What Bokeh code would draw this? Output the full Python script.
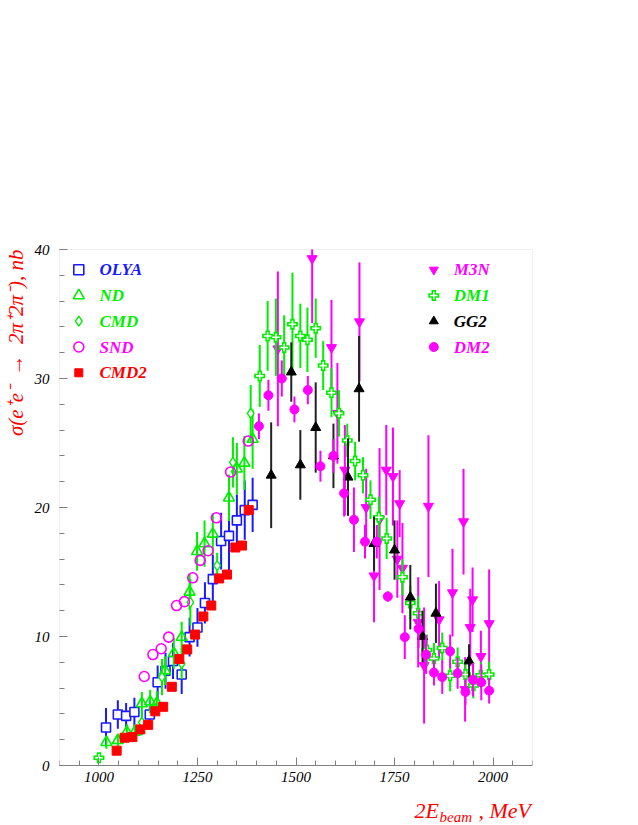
import numpy as np
from bokeh.plotting import figure
from bokeh.models import ColumnDataSource, Label, FixedTicker, Range1d, Title, BoxAnnotation
from bokeh.embed import file_html
from bokeh.resources import INLINE

# ---------------- data ----------------
olya_x = [1018, 1048, 1069, 1090, 1129, 1149, 1169, 1188, 1210, 1230, 1250, 1269, 1289, 1310, 1330, 1350, 1370, 1390]
olya_y = [2.95, 3.95, 3.85, 4.15, 3.95, 6.45, 7.35, 8.1, 7.05, 9.95, 10.7, 12.6, 14.45, 17.4, 17.8, 19.0, 19.8, 20.2]
olya_e = [1.5, 1.1, 1.0, 1.1, 1.1, 1.3, 1.4, 1.4, 1.5, 1.5, 1.5, 1.6, 1.9, 2.2, 2.9, 2.0, 2.3, 2.1]

nd_x = [1019, 1048, 1071, 1091, 1109, 1130, 1147, 1168, 1190, 1210, 1230, 1249, 1268, 1289, 1330, 1350, 1369, 1390]
nd_y = [1.8, 1.95, 2.6, 2.6, 4.8, 4.95, 4.85, 7.35, 8.7, 9.95, 13.45, 16.6, 17.2, 17.95, 20.75, 23.0, 23.45, 25.3]
nd_e = [0.5, 0.5, 0.6, 0.6, 0.9, 0.9, 0.9, 1.1, 1.2, 1.2, 1.4, 1.5, 1.8, 1.6, 1.8, 2.0, 2.1, 2.3]

cmd_x = [1109, 1160, 1210, 1232, 1300, 1340, 1385]
cmd_y = [3.35, 6.85, 7.9, 12.65, 15.5, 23.5, 27.3]
cmd_e = [1.0, 1.4, 1.2, 1.8, 1.0, 1.95, 2.2]

snd_x = [1115, 1137, 1158, 1177, 1197, 1217, 1238, 1257, 1277, 1298, 1334, 1379]
snd_y = [6.9, 8.6, 9.05, 9.95, 12.4, 12.7, 14.55, 15.9, 16.65, 19.2, 22.75, 25.15]

cmd2_x = [1045, 1065, 1085, 1105, 1125, 1143, 1163, 1185, 1204, 1224, 1244, 1265, 1285, 1305, 1325, 1346, 1363, 1380]
cmd2_y = [1.15, 2.15, 2.2, 2.8, 3.15, 4.2, 4.55, 6.1, 8.25, 9.0, 10.15, 11.55, 12.4, 14.5, 14.8, 16.9, 17.05, 19.8]

m3n_x = [1454, 1541, 1590, 1605, 1624, 1661, 1678, 1698, 1712, 1729, 1746, 1757, 1763, 1770, 1810, 1825, 1836, 1863, 1897, 1925, 1929, 1942, 1948, 1969, 1990]
m3n_y = [32.3, 39.3, 32.4, 27.3, 22.9, 34.4, 20.0, 14.7, 19.1, 22.9, 22.4, 16.0, 20.3, 15.3, 11.1, 7.75, 20.1, 11.3, 13.4, 18.9, 5.9, 10.7, 12.85, 8.45, 11.0]
m3n_e = [6.0, 5.0, 3.7, 3.9, 3.5, 4.6, 3.0, 3.6, 5.5, 3.5, 3.8, 3.0, 2.6, 3.5, 3.5, 4.5, 5.5, 3.0, 3.4, 4.1, 2.5, 3.0, 2.5, 2.0, 4.2]

dm1_x = [1000, 1408, 1428, 1449, 1470, 1491, 1511, 1529, 1550, 1569, 1590, 1609, 1630, 1650, 1670, 1689, 1710, 1730, 1770, 1790, 1810, 1832, 1850, 1871, 1891, 1910, 1930, 1950, 1969, 1990]
dm1_y = [0.6, 30.2, 33.3, 33.2, 32.4, 34.2, 33.3, 33.0, 33.9, 31.0, 28.9, 27.3, 25.2, 23.6, 22.5, 20.6, 19.25, 17.6, 14.6, 12.6, 11.8, 8.95, 8.3, 9.1, 6.95, 8.05, 7.05, 6.2, 7.0, 7.05]
dm1_e = [0.3, 2.4, 2.7, 3.0, 2.5, 4.0, 2.5, 2.5, 2.3, 1.9, 1.9, 1.8, 1.3, 1.5, 1.4, 1.5, 1.6, 1.6, 1.4, 1.3, 1.3, 1.2, 1.2, 1.2, 1.2, 1.1, 1.1, 1.0, 1.0, 1.0]

gg2_x = [1437, 1488, 1511, 1550, 1595, 1632, 1660, 1698, 1750, 1790, 1821, 1855, 1939]
gg2_y = [22.5, 30.5, 23.3, 26.2, 24.0, 22.35, 29.2, 17.2, 16.7, 13.05, 10.0, 11.8, 8.1]
gg2_e = [4.1, 2.3, 2.7, 3.5, 2.5, 3.0, 4.1, 2.1, 2.3, 2.5, 2.0, 2.3, 1.3]

dm2_x = [1406, 1430, 1464, 1496, 1530, 1562, 1595, 1622, 1647, 1675, 1705, 1733, 1776, 1811, 1830, 1850, 1871, 1891, 1910, 1930, 1949, 1970, 1990]
dm2_y = [26.3, 28.7, 30.0, 27.6, 29.1, 23.2, 24.0, 21.1, 19.05, 17.35, 17.35, 13.1, 9.95, 10.6, 8.6, 7.2, 6.85, 8.85, 7.15, 5.7, 6.65, 6.45, 5.8]
dm2_e = [1.0, 1.2, 1.4, 1.0, 1.1, 1.2, 1.3, 1.8, 2.5, 1.3, 1.3, 0.4, 1.7, 1.5, 1.5, 1.0, 1.3, 1.3, 1.2, 1.0, 1.3, 1.4, 1.0]

x_ticks = [1000, 1250, 1500, 1750, 2000]
y_ticks = [0, 10, 20, 30, 40]

# ---------------- styling ----------------
BLUE = "#1a1aff"
GREEN = "#00ee00"
MAG = "#ff00ff"
RED = "#ff0000"
BLACK = "#000000"
SERIF = "Liberation Serif"

W, H = 630, 825
BL, BR, BT = 59, 98, 249
X0, X1, Y0, Y1 = 900, 2100, 0, 40
FW = W - BL - BR
PX_PER_Y = 516 / (Y1 - Y0)          # 40 units over 516 px
Y_LO = Y1 - (H - BT) / PX_PER_Y      # frame runs to the canvas bottom


def px2x(px):
    return X0 + (px - BL) / FW * (X1 - X0)


def py2y(py):
    return Y1 - (py - BT) / PX_PER_Y


p = figure(width=W, height=H, output_backend="svg", toolbar_location=None,
           x_range=Range1d(X0, X1), y_range=Range1d(Y_LO, Y1))
p.min_border_left = BL
p.min_border_right = BR
p.min_border_top = BT
p.min_border_bottom = 0
p.xgrid.visible = False
p.ygrid.visible = False
p.outline_line_color = None
p.background_fill_color = "white"
p.border_fill_color = "white"

# plot box 900..2100 x 0..40
p.add_layout(BoxAnnotation(left=X0, right=X1, bottom=Y0, top=Y1, fill_alpha=0,
                           line_color="#9a9a9a", line_width=1, level="underlay"))

p.xaxis.ticker = FixedTicker(ticks=x_ticks, minor_ticks=list(range(900, 2101, 50)))
p.yaxis.ticker = FixedTicker(ticks=y_ticks, minor_ticks=list(range(0, 41, 2)))
p.xaxis.fixed_location = Y0
for ax in (p.xaxis[0], p.yaxis[0]):
    ax.axis_line_color = "#808080"
    ax.major_tick_line_color = "#808080"
    ax.minor_tick_line_color = "#808080"
    ax.major_tick_in = 8
    ax.major_tick_out = 0
    ax.minor_tick_in = 5
    ax.minor_tick_out = 0
    ax.major_label_text_font = SERIF
    ax.major_label_text_font_style = "italic"
    ax.major_label_text_font_size = "15px"
    ax.major_label_text_color = "black"
p.yaxis.axis_line_color = None
p.xaxis.major_label_standoff = 6
p.yaxis.major_label_standoff = 10


def src(x, y, e=None):
    x = np.asarray(x, float)
    y = np.asarray(y, float)
    e = np.zeros_like(y) if e is None else np.asarray(e, float)
    return ColumnDataSource(dict(x=x, y=y, lo=y - e, hi=y + e))


def bars(s, color, lw=2):
    p.segment(x0="x", y0="lo", x1="x", y1="hi", source=s, line_color=color, line_width=lw)


# OLYA
s = src(olya_x, olya_y, olya_e)
bars(s, BLUE)
p.scatter("x", "y", source=s, marker="square", size=9, line_color=BLUE, line_width=1.6,
          fill_color="white", fill_alpha=1.0)
# ND
s = src(nd_x, nd_y, nd_e)
bars(s, GREEN)
p.scatter("x", "y", source=s, marker="triangle", size=11, line_color=GREEN, line_width=1.6,
          fill_alpha=0)
# CMD
s = src(cmd_x, cmd_y, cmd_e)
bars(s, GREEN)
p.scatter("x", "y", source=s, marker="diamond", size=10, line_color=GREEN, line_width=1.4,
          fill_color="white")
# SND
s = src(snd_x, snd_y)
p.scatter("x", "y", source=s, marker="circle", size=10, line_color=MAG, line_width=1.6,
          fill_alpha=0)
# CMD2
s = src(cmd2_x, cmd2_y)
p.scatter("x", "y", source=s, marker="square", size=9, line_color=RED, fill_color=RED)
# M3N
s = src(m3n_x, m3n_y, m3n_e)
bars(s, MAG)
p.scatter("x", "y", source=s, marker="inverted_triangle", size=10, line_color=MAG, fill_color=MAG)
# DM1
s = src(dm1_x, dm1_y, dm1_e)
bars(s, GREEN)
p.scatter("x", "y", source=s, marker="cross", size=11, line_color=GREEN, line_width=4.5)
p.scatter("x", "y", source=s, marker="cross", size=7.5, line_color="white", line_width=1.6)
# GG2
s = src(gg2_x, gg2_y, gg2_e)
bars(s, "#222222")
p.scatter("x", "y", source=s, marker="triangle", size=10, line_color=BLACK, fill_color=BLACK)
# DM2
s = src(dm2_x, dm2_y, dm2_e)
bars(s, MAG)
p.scatter("x", "y", source=s, marker="circle", size=9, line_color=MAG, fill_color=MAG)

# ---------------- legends ----------------
left_names = ["OLYA", "ND", "CMD", "SND", "CMD2"]
right_names = ["M3N", "DM1", "GG2", "DM2"]
rows_py = [269.3, 295.0, 320.7, 346.5, 372.3]


def lab(x, y, text, color, size="17px", style="bold italic", baseline="middle"):
    p.add_layout(Label(x=x, y=y, text=text, text_color=color, text_font=SERIF,
                       text_font_style=style, text_font_size=size, text_align="left",
                       text_baseline=baseline))


lx = px2x(78.3)
ly = [py2y(v) for v in rows_py]
p.scatter([lx], [ly[0]], marker="square", size=10, line_color=BLUE, line_width=1.6, fill_alpha=0)
p.scatter([lx], [ly[1]], marker="triangle", size=11, line_color=GREEN, line_width=1.6, fill_alpha=0)
p.scatter([lx], [ly[2]], marker="diamond", size=10, line_color=GREEN, line_width=1.4, fill_alpha=0)
p.scatter([lx], [ly[3]], marker="circle", size=10, line_color=MAG, line_width=1.6, fill_alpha=0)
p.scatter([lx], [ly[4]], marker="square", size=8, line_color=RED, fill_color=RED)
for name, yv, c in zip(left_names, ly, [BLUE, GREEN, GREEN, MAG, RED]):
    lab(px2x(99), yv, name, c)

rx = px2x(433.3)
p.scatter([rx], [ly[0]], marker="inverted_triangle", size=9, line_color=MAG, fill_color=MAG)
p.scatter([rx], [ly[1]], marker="cross", size=11, line_color=GREEN, line_width=4.5)
p.scatter([rx], [ly[1]], marker="cross", size=7.5, line_color="white", line_width=1.6)
p.scatter([rx], [ly[2]], marker="triangle", size=9, line_color=BLACK, fill_color=BLACK)
p.scatter([rx], [ly[3]], marker="circle", size=9, line_color=MAG, fill_color=MAG)
for name, yv, c in zip(right_names, ly, [MAG, GREEN, BLACK, MAG]):
    lab(px2x(453.3), yv, name, c)

# ---------------- axis titles ----------------
lab(px2x(414), py2y(810), "2E", RED, size="22px", style="italic", baseline="alphabetic")
lab(px2x(439), py2y(816), "beam", RED, size="15px", style="italic", baseline="alphabetic")
lab(px2x(478), py2y(810), ", MeV", RED, size="22px", style="italic", baseline="alphabetic")

yt = Title(text="σ(e⁺e⁻\u2002→\u20022π⁺2π⁻), nb", align="right", text_color=RED, text_font=SERIF,
           text_font_style="italic", text_font_size="21px", standoff=4, offset=0,
           vertical_align="top")
p.add_layout(yt, "left")

open("out.html", "w").write(file_html(p, INLINE))
